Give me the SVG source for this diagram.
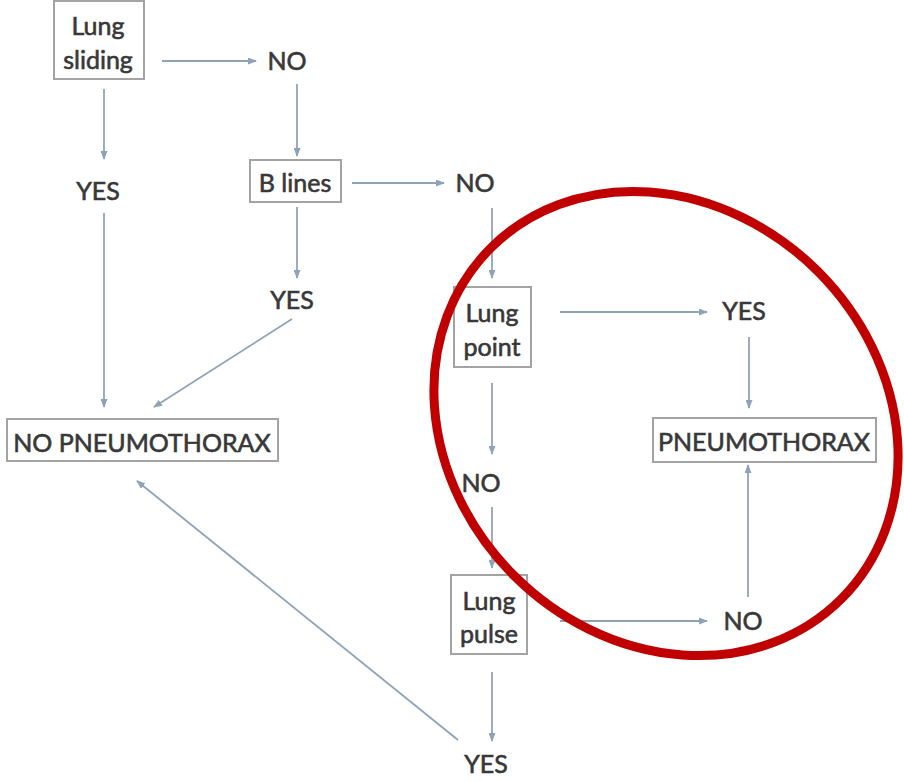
<svg xmlns="http://www.w3.org/2000/svg" width="904" height="782" viewBox="0 0 904 782">
<style>
.box{fill:#fff;stroke:#a3a3a3;stroke-width:2}
.t{font-family:Lato,"Open Sans","Liberation Sans",sans-serif;font-size:25px;fill:#383838;stroke:#383838;stroke-width:0.6;text-anchor:middle}
.c{stroke:#8fa3b8;stroke-width:1.8;fill:none;marker-end:url(#ah)}
</style>
<defs>
<marker id="ah" markerUnits="userSpaceOnUse" markerWidth="9" markerHeight="7" refX="8" refY="3.5" orient="auto">
<path d="M0,0 L9,3.5 L0,7 z" fill="#8fa3b8"/>
</marker>
</defs>
<rect width="904" height="782" fill="#fff"/>
<g id="connectors">
<line class="c" x1="162" y1="61" x2="256" y2="61"/>
<line class="c" x1="104" y1="89" x2="104" y2="159"/>
<line class="c" x1="297" y1="84" x2="297" y2="156"/>
<line class="c" x1="352" y1="183" x2="444" y2="183"/>
<line class="c" x1="297" y1="207" x2="297" y2="278"/>
<line class="c" x1="492" y1="208" x2="492" y2="278"/>
<line class="c" x1="292" y1="319" x2="154" y2="407"/>
<line class="c" x1="104" y1="213" x2="104" y2="407"/>
<line class="c" x1="458" y1="740" x2="137" y2="481"/>
<line class="c" x1="560" y1="312" x2="707" y2="312"/>
<line class="c" x1="749" y1="337" x2="749" y2="408"/>
<line class="c" x1="492" y1="383" x2="492" y2="454"/>
<line class="c" x1="492" y1="507" x2="492" y2="568"/>
<line class="c" x1="560" y1="621" x2="707" y2="621"/>
<line class="c" x1="748" y1="597" x2="748" y2="465"/>
<line class="c" x1="492" y1="672" x2="492" y2="741"/>
</g>
<g id="lung-sliding"><rect class="box" x="54" y="1" width="90" height="78"/><text class="t" x="98" y="35">Lung</text><text class="t" x="98" y="69">sliding</text></g>
<g id="no-1"><text class="t" x="287" y="70">NO</text></g>
<g id="yes-1"><text class="t" x="98" y="200">YES</text></g>
<g id="b-lines"><rect class="box" x="250" y="160" width="91" height="42"/><text class="t" x="295" y="192">B lines</text></g>
<g id="no-2"><text class="t" x="475" y="192">NO</text></g>
<g id="yes-2"><text class="t" x="292" y="309">YES</text></g>
<g id="no-pneumothorax"><rect class="box" x="7" y="419" width="271" height="42"/><text class="t" x="142" y="452">NO PNEUMOTHORAX</text></g>
<g id="lung-point"><rect class="box" x="454" y="287" width="77" height="80"/><text class="t" x="492" y="322">Lung</text><text class="t" x="492" y="356">point</text></g>
<g id="yes-3"><text class="t" x="744" y="320">YES</text></g>
<g id="pneumothorax"><rect class="box" x="653" y="418" width="223" height="44"/><text class="t" x="764" y="451">PNEUMOTHORAX</text></g>
<g id="no-3"><text class="t" x="481" y="492">NO</text></g>
<g id="lung-pulse"><rect class="box" x="451" y="575" width="76" height="79"/><text class="t" x="489" y="610">Lung</text><text class="t" x="489" y="643">pulse</text></g>
<g id="no-4"><text class="t" x="743" y="630">NO</text></g>
<g id="yes-4"><text class="t" x="486" y="773">YES</text></g>
<g id="highlight"><ellipse cx="666" cy="423.5" rx="248" ry="215" transform="rotate(45 666 423.5)" fill="none" stroke="#c00000" stroke-width="9"/></g>
</svg>
